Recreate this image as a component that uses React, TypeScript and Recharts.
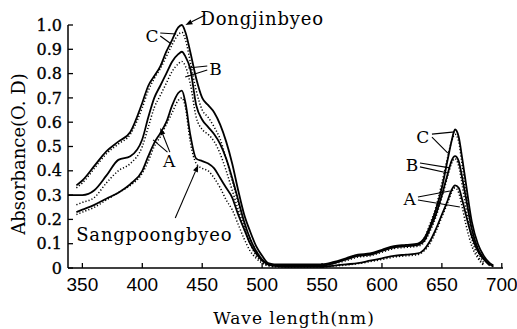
import { LineChart, Line, XAxis, YAxis, ReferenceLine, ReferenceDot } from "recharts";

// wavelength (nm)
const WAVES = [
  338, 345, 350, 360, 370, 380, 390, 400, 405, 410, 415, 420, 425, 430, 433, 436, 440, 445, 450, 455,
  460, 465, 470, 475, 480, 485, 490, 495, 500, 505, 510, 520, 530, 540, 550, 560, 570, 580, 590, 600,
  610, 620, 630, 635, 640, 645, 650, 655, 658, 661, 664, 667, 670, 675, 680, 685, 690, 693,
];

// absorbance, solid = first sample, dotted = second sample
const C_SOLID = [
  null, 0.34, 0.36, 0.42, 0.48, 0.52, 0.56, 0.68, 0.75, 0.79, 0.83, 0.89, 0.94, 0.99, 1.0, 0.97, 0.89, 0.78, 0.7, 0.67,
  0.64, 0.59, 0.52, 0.43, 0.32, 0.22, 0.15, 0.09, 0.05, 0.02, 0.015, 0.015, 0.015, 0.015, 0.015, 0.025, 0.04, 0.055, 0.06, 0.075,
  0.09, 0.095, 0.1, 0.12, 0.17, 0.24, 0.33, 0.45, 0.52, 0.57, 0.54, 0.45, 0.35, 0.19, 0.1, 0.05, 0.02, 0.01,
];
const C_DOT = [
  null, 0.33, 0.35, 0.41, 0.47, 0.51, 0.55, 0.66, 0.73, 0.78, 0.82, 0.87, 0.92, 0.96, 0.97, 0.94, 0.85, 0.73, 0.65, 0.62,
  0.58, 0.53, 0.45, 0.36, 0.27, 0.18, 0.12, 0.07, 0.035, 0.015, 0.01, 0.01, 0.01, 0.01, 0.01, 0.02, 0.035, 0.05, 0.055, 0.07,
  0.085, 0.09, 0.095, 0.12, 0.18, 0.25, 0.35, 0.46, 0.52, 0.55, 0.52, 0.42, 0.31, 0.15, 0.07, 0.02, null, null,
];
const B_SOLID = [
  0.3, 0.3, 0.3, 0.32, 0.38, 0.445, 0.46, 0.53, 0.62, 0.7, 0.75, 0.8, 0.85, 0.88, 0.89, 0.87, 0.82, 0.67, 0.61, 0.58,
  0.55, 0.51, 0.45, 0.37, 0.28, 0.19, 0.12, 0.07, 0.035, 0.015, 0.01, 0.01, 0.01, 0.01, 0.01, 0.02, 0.035, 0.05, 0.055, 0.07,
  0.085, 0.09, 0.095, 0.11, 0.16, 0.22, 0.3, 0.39, 0.44, 0.46, 0.44, 0.37, 0.29, 0.16, 0.08, 0.04, 0.015, 0.005,
];
const B_DOT = [
  null, 0.26, 0.27, 0.29, 0.35, 0.4, 0.43, 0.5, 0.58, 0.66, 0.71, 0.76, 0.81, 0.84, 0.85, 0.83, 0.76, 0.62, 0.57, 0.55,
  0.52, 0.47, 0.4, 0.32, 0.24, 0.16, 0.1, 0.05, 0.025, 0.01, 0.01, 0.01, 0.01, 0.01, 0.01, 0.018, 0.03, 0.045, 0.05, 0.065,
  0.08, 0.085, 0.09, 0.105, 0.15, 0.21, 0.29, 0.38, 0.43, 0.45, 0.42, 0.34, 0.25, 0.12, 0.05, 0.015, null, null,
];
const A_SOLID = [
  null, 0.23, 0.24, 0.26, 0.285, 0.31, 0.345, 0.4, 0.46, 0.515, 0.555, 0.6, 0.67, 0.72, 0.73, 0.68, 0.55, 0.45, 0.44, 0.43,
  0.41, 0.37, 0.33, 0.29, 0.22, 0.16, 0.1, 0.06, 0.03, 0.015, 0.01, 0.005, 0.005, 0.005, 0.005, 0.01, 0.015, 0.02, 0.03, 0.04,
  0.05, 0.055, 0.06, 0.075, 0.11, 0.16, 0.22, 0.28, 0.32, 0.34, 0.33, 0.28, 0.22, 0.13, 0.07, 0.035, 0.01, null,
];
const A_DOT = [
  null, 0.22, 0.23, 0.25, 0.28, 0.31, 0.34, 0.39, 0.44, 0.5, 0.54, 0.59, 0.64, 0.69, 0.7, 0.66, 0.52, 0.43, 0.41, 0.4,
  0.37, 0.33, 0.28, 0.24, 0.18, 0.12, 0.07, 0.04, 0.02, 0.01, 0.005, 0.004, 0.004, 0.004, 0.004, 0.008, 0.012, 0.018, 0.026, 0.035,
  0.045, 0.05, 0.055, 0.07, 0.1, 0.15, 0.21, 0.27, 0.31, 0.33, 0.31, 0.25, 0.18, 0.09, 0.04, 0.01, null, null,
];

const X_TICKS = [350, 400, 450, 500, 550, 600, 650, 700];
const Y_TICKS = [0, 0.1, 0.2, 0.3, 0.4, 0.5, 0.6, 0.7, 0.8, 0.9, 1.0];

// annotations, in (wavelength, absorbance) units
const NOTES = [
  { text: "Dongjinbyeo", w: 500, a: 1.025, big: true },
  { text: "C", w: 408, a: 0.955, big: false },
  { text: "B", w: 461, a: 0.818, big: false },
  { text: "A", w: 422.5, a: 0.44, big: false },
  { text: "Sangpoongbyeo", w: 410, a: 0.136, big: true },
  { text: "C", w: 634, a: 0.539, big: false },
  { text: "B", w: 625, a: 0.424, big: false },
  { text: "A", w: 623, a: 0.284, big: false },
];
const LEADERS = [
  { from: [452.5, 1.041], to: [436, 1.0], arrow: true },
  { from: [415, 0.967], to: [428.3, 0.963], arrow: false },
  { from: [415, 0.955], to: [424.2, 0.922], arrow: false },
  { from: [454.2, 0.831], to: [438.3, 0.823], arrow: false },
  { from: [454.2, 0.815], to: [435.8, 0.786], arrow: false },
  { from: [423, 0.477], to: [415, 0.576], arrow: true },
  { from: [421, 0.477], to: [409, 0.527], arrow: false },
  { from: [427.5, 0.206], to: [446.7, 0.424], arrow: true },
  { from: [641.7, 0.551], to: [660.8, 0.56], arrow: false },
  { from: [641.7, 0.539], to: [655, 0.473], arrow: false },
  { from: [631.7, 0.432], to: [656.7, 0.412], arrow: false },
  { from: [631.7, 0.416], to: [655, 0.391], arrow: false },
  { from: [630, 0.292], to: [656.7, 0.317], arrow: false },
  { from: [630, 0.28], to: [665, 0.251], arrow: false },
];

const data = WAVES.map((w, i) => ({
  w,
  cS: C_SOLID[i],
  cD: C_DOT[i],
  bS: B_SOLID[i],
  bD: B_DOT[i],
  aS: A_SOLID[i],
  aD: A_DOT[i],
}));

const SERIF = "'DejaVu Serif', serif";

const Leader = (p: any) => {
  const { x1, y1, x2, y2, arrow } = p;
  const ang = Math.atan2(y2 - y1, x2 - x1);
  const len = 7;
  const hw = 2.6;
  const bx = x2 - len * Math.cos(ang);
  const by = y2 - len * Math.sin(ang);
  const pts = `${x2},${y2} ${bx - hw * Math.sin(ang)},${by + hw * Math.cos(ang)} ${bx + hw * Math.sin(ang)},${by - hw * Math.cos(ang)}`;
  return (
    <g>
      <line x1={x1} y1={y1} x2={arrow ? bx : x2} y2={arrow ? by : y2} stroke="#000" strokeWidth={1.1} />
      {arrow && <polygon points={pts} fill="#000" />}
    </g>
  );
};

const YTitle = () => (
  <text x={18} y={154} transform="rotate(-90 18 154)" textAnchor="middle" dominantBaseline="central"
    fontFamily={SERIF} fontSize={18} fill="#000">
    Absorbance(O. D)
  </text>
);

const XTitle = () => (
  <text x={294} y={324} textAnchor="middle" fontFamily={SERIF} fontSize={17} letterSpacing={1} fill="#000">
    Wave length(nm)
  </text>
);

const series = [
  { key: "cS", dot: false },
  { key: "cD", dot: true },
  { key: "bS", dot: false },
  { key: "bD", dot: true },
  { key: "aS", dot: false },
  { key: "aD", dot: true },
];

export default function App() {
  return (
    <div style={{ position: "absolute", left: 0, top: 0, width: 517, height: 329, background: "#fff" }}>
      <LineChart width={517} height={329} data={data} margin={{ top: 25, right: 14, bottom: 0, left: 0 }}>
        <XAxis
          dataKey="w"
          type="number"
          domain={[338, 701]}
          ticks={X_TICKS}
          allowDataOverflow
          height={61}
          tickSize={-5}
          tickMargin={15}
          axisLine={{ stroke: "#000", strokeWidth: 1.5 }}
          tickLine={{ stroke: "#000", strokeWidth: 1.3 }}
          tick={{ fill: "#000", fontSize: 19, fontFamily: "'Liberation Sans Narrow', 'Liberation Sans', sans-serif" }}
          label={<XTitle />}
        />
        <YAxis
          type="number"
          domain={[0, 1]}
          ticks={Y_TICKS}
          width={68}
          tickSize={-5}
          tickMargin={11}
          tickFormatter={(v: number) => (v === 0 ? "0" : v.toFixed(1))}
          axisLine={{ stroke: "#000", strokeWidth: 1.5 }}
          tickLine={{ stroke: "#000", strokeWidth: 1.3 }}
          tick={{ fill: "#000", fontSize: 16, fontFamily: SERIF, stroke: "#000", strokeWidth: 0.35 }}
          label={<YTitle />}
        />
        {series.map((s) => (
          <Line
            key={s.key}
            dataKey={s.key}
            type="monotone"
            stroke="#000"
            strokeWidth={s.dot ? 1.5 : 1.8}
            strokeDasharray={s.dot ? "1.2 2" : undefined}
            dot={false}
            activeDot={false}
            isAnimationActive={false}
          />
        ))}
        {LEADERS.map((l, i) => (
          <ReferenceLine
            key={`l${i}`}
            segment={[{ x: l.from[0], y: l.from[1] }, { x: l.to[0], y: l.to[1] }]}
            ifOverflow="visible"
            shape={(p: any) => <Leader {...p} arrow={l.arrow} />}
          />
        ))}
        {NOTES.map((n, i) => (
          <ReferenceDot
            key={`n${i}`}
            x={n.w}
            y={n.a}
            r={0}
            ifOverflow="visible"
            shape={(p: any) => (
              <text x={p.cx} y={p.cy} textAnchor="middle" dominantBaseline="central"
                fontFamily={SERIF} fontSize={n.big ? 18 : 17} letterSpacing={n.big ? 0.8 : 0} fill="#000">
                {n.text}
              </text>
            )}
          />
        ))}
      </LineChart>
    </div>
  );
}
